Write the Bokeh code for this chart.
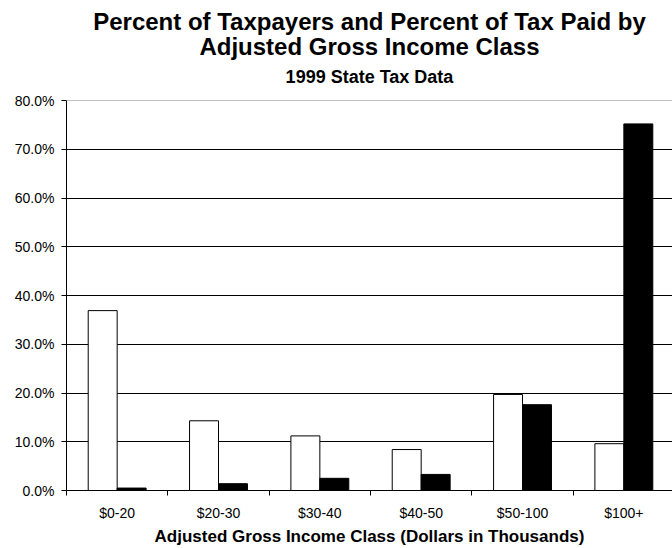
import numpy as np
from bokeh.plotting import figure
from bokeh.models import Range1d, FixedTicker, PrintfTickFormatter, Title, Span, ColumnDataSource
from bokeh.embed import file_html
from bokeh.resources import INLINE

categories = ["$0-20", "$20-30", "$30-40", "$40-50", "$50-100", "$100+"]
pct_taxpayers = [36.9, 14.3, 11.2, 8.4, 19.7, 9.6]
pct_tax_paid = [0.5, 1.4, 2.5, 3.3, 17.6, 75.2]
y_ticks = [0, 10, 20, 30, 40, 50, 60, 70, 80]

FONT = "Liberation Sans"
BAR_W = 1 / 3.5

centers = np.arange(len(categories)) + 0.5
src = ColumnDataSource(dict(
    xa=centers - BAR_W / 2,
    xb=centers + BAR_W / 2,
    a=pct_taxpayers,
    b=pct_tax_paid,
))

p = figure(width=672, height=548, output_backend="svg", toolbar_location=None,
           title=None,
           x_range=Range1d(0, 5.98), y_range=Range1d(0, 80),
           min_border_left=66, min_border_right=0, min_border_top=100,
           min_border_bottom=57)
p.outline_line_color = None
p.background_fill_color = "white"
p.border_fill_color = "white"

# titles (added from closest-to-plot outward)
p.add_layout(Title(text="1999 State Tax Data", align="center", text_font=FONT,
                   text_font_size="18px", text_font_style="bold", text_color="black",
                   standoff=27), "above")
p.add_layout(Title(text="Adjusted Gross Income Class", align="center", text_font=FONT,
                   text_font_size="24px", text_font_style="bold", text_color="black",
                   standoff=-17), "above")
p.add_layout(Title(text="Percent of Taxpayers and Percent of Tax Paid by", align="center",
                   text_font=FONT, text_font_size="24px", text_font_style="bold",
                   text_color="black", standoff=9), "above")

# grid
p.xgrid.visible = False
p.ygrid.ticker = FixedTicker(ticks=y_ticks[1:-1])
p.ygrid.grid_line_color = "black"
p.ygrid.grid_line_width = 1
p.add_layout(Span(location=80, dimension="width", line_color="#808080", line_width=1))

p.vbar(x="xa", top="a", width=BAR_W, bottom=0, source=src,
       fill_color="white", line_color="black", line_width=1)
p.vbar(x="xb", top="b", width=BAR_W, bottom=0, source=src,
       fill_color="black", line_color="black", line_width=1)

# y axis
p.yaxis.ticker = FixedTicker(ticks=y_ticks)
p.yaxis.formatter = PrintfTickFormatter(format="%.1f%%")
p.yaxis.major_tick_out = 5
p.yaxis.major_tick_in = 0
p.yaxis.minor_tick_out = 0
p.yaxis.minor_tick_in = 0
p.yaxis.major_label_standoff = 7
p.yaxis.major_label_text_font = FONT
p.yaxis.major_label_text_font_size = "14px"
p.yaxis.major_label_text_color = "black"
p.yaxis.axis_line_color = "black"
p.yaxis.major_tick_line_color = "black"

# x axis
p.xaxis.ticker = FixedTicker(ticks=list(centers), minor_ticks=list(range(len(categories) + 1)))
p.xaxis.major_label_overrides = {float(c): lab for c, lab in zip(centers, categories)}
p.xaxis.major_tick_out = 0
p.xaxis.major_tick_in = 0
p.xaxis.minor_tick_out = 5
p.xaxis.minor_tick_in = 0
p.xaxis.minor_tick_line_color = "black"
p.xaxis.axis_line_color = "black"
p.xaxis.major_label_standoff = 9
p.xaxis.major_label_text_font = FONT
p.xaxis.major_label_text_font_size = "14px"
p.xaxis.major_label_text_color = "black"
p.xaxis.axis_label = "Adjusted Gross Income Class (Dollars in Thousands)"
p.xaxis.axis_label_text_font = FONT
p.xaxis.axis_label_text_font_size = "17px"
p.xaxis.axis_label_text_font_style = "bold"
p.xaxis.axis_label_text_color = "black"
p.xaxis.axis_label_standoff = 3

open("out.html", "w").write(file_html(p, INLINE))
